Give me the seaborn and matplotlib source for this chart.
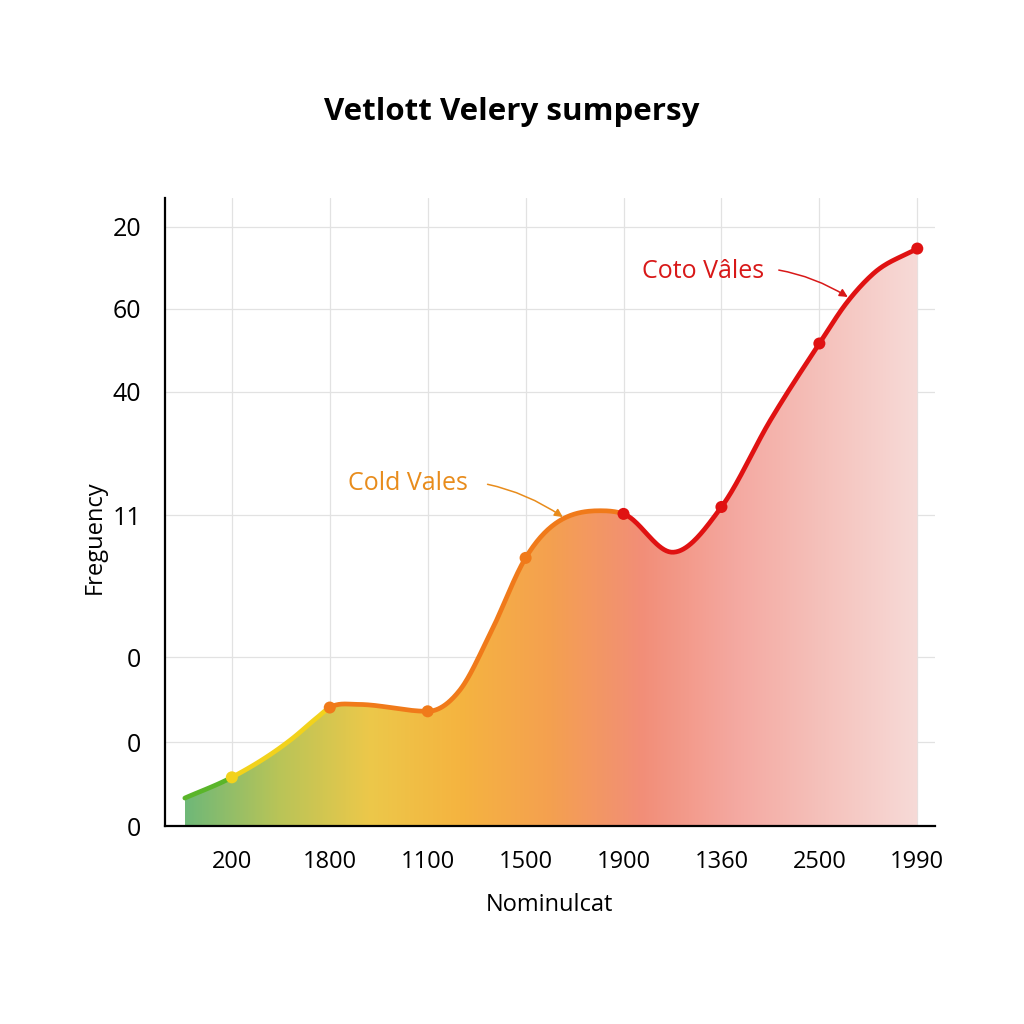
import numpy as np
import matplotlib
matplotlib.use("Agg")
import matplotlib.pyplot as plt
import seaborn as sns
from matplotlib.colors import LinearSegmentedColormap

sns.set_style("white")
plt.rcParams['font.family'] = ['Open Sans', 'DejaVu Sans']
plt.rcParams['text.color'] = 'black'
plt.rcParams['axes.labelcolor'] = 'black'
plt.rcParams['xtick.color'] = 'black'
plt.rcParams['ytick.color'] = 'black'

# data
tick_labels = ["200", "1800", "1100", "1500", "1900", "1360", "2500", "1990"]
marker_values = [7.8, 18.9, 18.3, 42.7, 49.7, 50.8, 76.8, 91.9]
marker_colors = ["#f2d21c", "#f07a1a", "#f07a1a", "#f07a1a",
                 "#e01212", "#e01212", "#e01212", "#e01212"]
curve_x = [-0.48, 0, 0.62, 0.87, 1.0, 1.28, 2.0, 2.33, 2.64, 3.0, 3.76, 4.0,
           4.5, 5.0, 5.5, 6.0, 6.28, 6.55, 7.0]
curve_y = [4.5, 7.8, 14.0, 17.3, 18.9, 19.4, 18.3, 21.7, 30.7, 42.7, 50.2,
           49.7, 43.6, 50.8, 64.6, 76.8, 83.3, 87.9, 91.9]
ytick_pos = [0, 13.4, 26.9, 49.5, 69.1, 82.3, 95.4]
ytick_labels = ["0", "0", "0", "11", "40", "60", "20"]

# line colour segments (start x, end x, colour)
segments = [(-0.48, 0.0, "#5ab52a"), (0.0, 1.0, "#f2d21c"),
            (1.0, 4.0, "#f07a1a"), (4.0, 7.0, "#e01212")]
fill_stops = ["#6fb878", "#b8c458", "#ecc84a", "#f5b440", "#f4a050",
              "#f28e78", "#f4a8a0", "#f5c2bc", "#f7dad7"]


def smooth(xs, ys, n=40):
    # cubic hermite through the read points, only to draw a smooth line;
    # flat tangent at the local peaks and dips
    xs = np.asarray(xs, float)
    ys = np.asarray(ys, float)
    h = np.diff(xs)
    d = np.diff(ys) / h
    m = np.zeros_like(ys)
    for k in range(1, len(xs) - 1):
        if d[k - 1] * d[k] > 0:
            m[k] = (d[k - 1] * h[k] + d[k] * h[k - 1]) / (h[k - 1] + h[k])
    m[0] = d[0]
    m[-1] = d[-1]
    ox, oy = [], []
    for i in range(len(xs) - 1):
        t = np.linspace(0, 1, n, endpoint=False)
        h00 = 2 * t**3 - 3 * t**2 + 1
        h10 = t**3 - 2 * t**2 + t
        h01 = -2 * t**3 + 3 * t**2
        h11 = t**3 - t**2
        ox.append(xs[i] + t * h[i])
        oy.append(h00 * ys[i] + h10 * h[i] * m[i] + h01 * ys[i + 1] + h11 * h[i] * m[i + 1])
    ox.append([xs[-1]])
    oy.append([ys[-1]])
    return np.concatenate(ox), np.concatenate(oy)


sx, sy = smooth(curve_x, curve_y)

fig = plt.figure(figsize=(10.24, 10.24), dpi=100)
ax = fig.add_axes([0.161, 0.193, 0.752, 0.614])
ax.set_xlim(-0.684, 7.18)
ax.set_ylim(0, 100)

# grid
for xv in range(len(tick_labels)):
    ax.axvline(xv, color="#e2e2e2", lw=0.9, zorder=0)
for yv in ytick_pos:
    ax.axhline(yv, color="#e2e2e2", lw=0.9, zorder=0)

# gradient fill under the curve
poly = ax.fill_between(sx, 0, sy, color="none", lw=0)
cmap = LinearSegmentedColormap.from_list("grad", fill_stops)
grad = np.linspace(0, 1, 256).reshape(1, -1)
img = ax.imshow(grad, cmap=cmap, aspect="auto", extent=[sx[0], sx[-1], 0, 100],
                origin="lower", zorder=1)
img.set_clip_path(poly.get_paths()[0], transform=ax.transData)

# coloured line segments
for x0, x1, col in segments:
    mask = (sx >= x0 - 1e-9) & (sx <= x1 + 1e-9)
    sns.lineplot(x=sx[mask], y=sy[mask], color=col, lw=3.4, ax=ax,
                 sort=False, estimator=None, zorder=3)

sns.scatterplot(x=np.arange(len(marker_values)), y=marker_values,
                hue=np.arange(len(marker_values)),
                palette=marker_colors, s=75, edgecolor="none",
                legend=False, ax=ax, zorder=4)

# annotations
ax.annotate("Cold Vales", xy=(3.38, 49.2), xytext=(2.41, 54.6),
            color="#e88c1c", fontsize=18, ha="right", va="center",
            arrowprops=dict(arrowstyle="-|>", color="#e88c1c", lw=1.1,
                            connectionstyle="arc3,rad=-0.2",
                            shrinkA=12, shrinkB=0, mutation_scale=12))
ax.annotate("Coto Vâles", xy=(6.29, 84.2), xytext=(5.44, 88.2),
            color="#d81818", fontsize=18, ha="right", va="center",
            arrowprops=dict(arrowstyle="-|>", color="#d81818", lw=1.1,
                            connectionstyle="arc3,rad=-0.2",
                            shrinkA=8, shrinkB=0, mutation_scale=12))

# axes styling
ax.set_xticks(range(len(tick_labels)))
ax.set_xticklabels(tick_labels, fontsize=17)
ax.set_yticks(ytick_pos)
ax.set_yticklabels(ytick_labels, fontsize=18)
ax.tick_params(axis="both", direction="out", length=8, width=1.4,
               color="black", pad=9)
for side in ["top", "right"]:
    ax.spines[side].set_visible(False)
for side in ["left", "bottom"]:
    ax.spines[side].set_color("black")
    ax.spines[side].set_linewidth(1.6)

ax.set_xlabel("Nominulcat", fontsize=17, labelpad=14)
ax.set_ylabel("Freguency", fontsize=17, labelpad=4)
ax.yaxis.set_label_coords(-0.075, 0.46)

fig.suptitle("Vetlott Velery sumpersy", fontsize=22.5, fontweight="bold",
             y=0.905)

fig.savefig("out.png", dpi=100, facecolor="white")
